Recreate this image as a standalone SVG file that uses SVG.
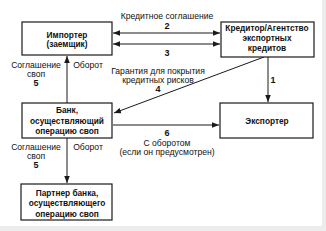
<svg xmlns="http://www.w3.org/2000/svg" width="326" height="231" viewBox="0 0 326 231">
<defs>
<marker id="ah" viewBox="0 0 10 10" refX="10" refY="5" markerWidth="7" markerHeight="7" markerUnits="userSpaceOnUse" orient="auto-start-reverse">
<path d="M0,1 L10,5 L0,9 Z" fill="#1a1a1a"/>
</marker>
<style>
.box{fill:#fff;stroke:#1a1a1a;stroke-width:1.2}
.bt{font-family:"Liberation Sans",Arial,sans-serif;font-size:8.3px;font-weight:bold;fill:#111;text-anchor:middle}
.lt{font-family:"Liberation Sans",Arial,sans-serif;font-size:8.6px;fill:#111;text-anchor:middle}
.nt{font-family:"Liberation Sans",Arial,sans-serif;font-size:9px;font-weight:bold;fill:#111;text-anchor:middle}
.ln{stroke:#1a1a1a;stroke-width:1;fill:none}
</style>
</defs>
<rect x="0" y="0" width="326" height="231" fill="#ececec"/>
<rect x="0" y="0" width="322" height="226" fill="#fff"/>
<g id="connectors">
<line class="ln" x1="113" y1="33" x2="220" y2="33" marker-start="url(#ah)" marker-end="url(#ah)"/>
<line class="ln" x1="113" y1="44" x2="220" y2="44" marker-start="url(#ah)" marker-end="url(#ah)"/>
<line class="ln" x1="268" y1="57" x2="268" y2="102" marker-end="url(#ah)"/>
<line class="ln" x1="264" y1="57" x2="114" y2="113" marker-end="url(#ah)"/>
<line class="ln" x1="67" y1="103" x2="67" y2="56" marker-end="url(#ah)"/>
<line class="ln" x1="113" y1="125" x2="219" y2="125" marker-end="url(#ah)"/>
<line class="ln" x1="67" y1="138" x2="67" y2="183" marker-end="url(#ah)"/>
</g>
<g id="labels">
<text class="lt" x="167" y="19">Кредитное соглашение</text>
<text class="nt" x="167" y="29">2</text>
<text class="nt" x="167" y="56">3</text>
<text class="lt" x="36" y="68">Соглашение</text>
<text class="lt" x="36" y="77">своп</text>
<text class="nt" x="36" y="86">5</text>
<text class="lt" x="88" y="68">Оборот</text>
<text class="lt" x="158" y="73.5">Гарантия для покрытия</text>
<text class="lt" x="158" y="82.5">кредитных рисков</text>
<text class="nt" x="158" y="91.5">4</text>
<text class="nt" x="273" y="83">1</text>
<text class="nt" x="167" y="136">6</text>
<text class="lt" x="167" y="146">С оборотом</text>
<text class="lt" x="167" y="154.5">(если он предусмотрен)</text>
<text class="lt" x="36" y="150">Соглашение</text>
<text class="lt" x="36" y="158.5">своп</text>
<text class="nt" x="36" y="167.5">5</text>
<text class="lt" x="88" y="150">Оборот</text>
</g>
<g id="importer">
<rect class="box" x="22" y="22" width="90" height="33"/>
<text class="bt" x="67" y="37.5">Импортер</text>
<text class="bt" x="67" y="47">(заемщик)</text>
</g>
<g id="creditor">
<rect class="box" x="221" y="22" width="93" height="35"/>
<text class="bt" x="267" y="31">Кредитор/Агентство</text>
<text class="bt" x="267" y="41">экспортных</text>
<text class="bt" x="267" y="51">кредитов</text>
</g>
<g id="bank">
<rect class="box" x="22" y="103" width="90" height="35"/>
<text class="bt" x="67" y="113">Банк,</text>
<text class="bt" x="67" y="123.5">осуществляющий</text>
<text class="bt" x="67" y="134">операцию своп</text>
</g>
<g id="exporter">
<rect class="box" x="220" y="103" width="93" height="35"/>
<text class="bt" x="267" y="124">Экспортер</text>
</g>
<g id="partner">
<rect class="box" x="21" y="184" width="91" height="36"/>
<text class="bt" x="67" y="196">Партнер банка,</text>
<text class="bt" x="67" y="206">осуществляющего</text>
<text class="bt" x="67" y="217">операцию своп</text>
</g>
</svg>
